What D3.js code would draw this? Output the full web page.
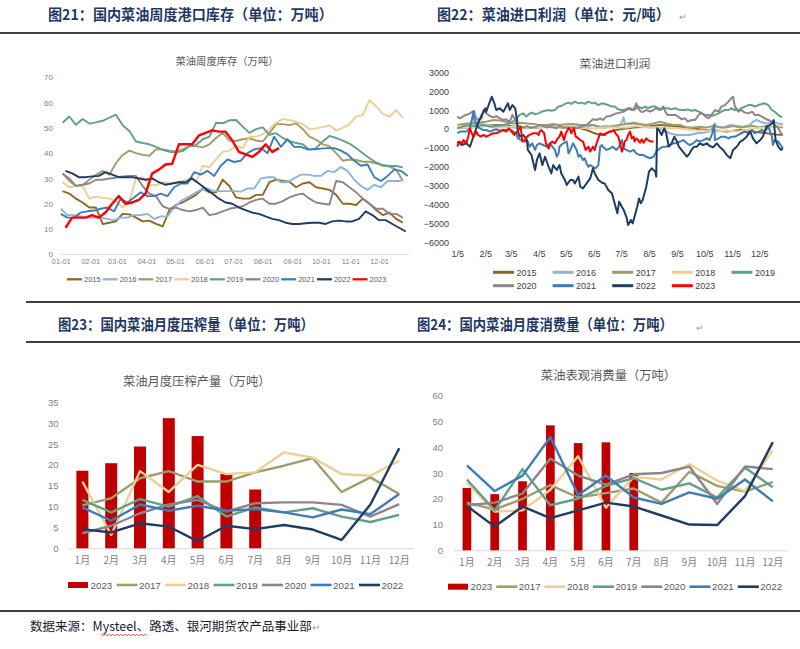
<!DOCTYPE html>
<html lang="zh">
<head>
<meta charset="UTF-8">
<title>菜油库存、利润、压榨与消费</title>
<script src="https://d3js.org/d3.v7.min.js"></script>
<style>
  body { margin: 0; background: #fff; }
  svg { display: block; }
</style>
</head>
<body>
<div id="chart"></div>
<script>
// ---------- data ----------
const years = ["2015", "2016", "2017", "2018", "2019", "2020", "2021", "2022", "2023"];
const yearColors = {
  "2015": "#8c6a23", "2016": "#8fb4da", "2017": "#9d9e6c", "2018": "#ebcf96",
  "2019": "#62a08a", "2020": "#8f8489", "2021": "#3e7cb8", "2022": "#1f3d63", "2023": "#ff0000"
};

// 图21 weekly port stock (万吨): first week date + weekly values
const stockStart = { "2015": "01-03", "2016": "01-01", "2017": "01-03", "2018": "01-03", "2019": "01-03",
                     "2020": "01-03", "2021": "01-01", "2022": "01-06", "2023": "01-06" };
const stock2015 = [25,24,22,20.5,18.5,18.5,12,12.5,13,16,15.8,14.5,13,13.3,12,11,17.5,19.5,20.5,22,23.5,26,24.5,24.5,29.5,27,22.5,22,22,23.5,23.5,28.5,29.5,29,28.7,26.5,28,28.5,26.5,26,25.5,23.5,20,20,19.5,22,20,17.5,15.5,16.5,14,12.5];
const stock2016 = [18,15.5,15.5,15,14.5,14.5,14.5,14,13.5,14.5,14.5,15.5,15.5,16,14,15,15,18.5,21,22.5,24,25.5,26,25,25,25,25,24.8,26,26,30,30.5,30.5,28.5,28.5,30,31.5,31.5,31,31,33,32.5,34.5,33,29.5,27,25.5,27.5,26.5,29,29,29];
const stock2017 = [32,29,27,27.4,29.5,31.4,33,31.5,36,39.3,41,40,39.3,39,41.5,41.5,41,40.7,41.5,42.8,42.8,42.3,43.5,46,48,45,44.8,45.5,45.9,45,44.6,47.9,51.5,51.5,51.1,51.8,49.5,46.5,45.3,43.5,42.8,40,37,37.5,37.3,36.6,36.6,36,35,34.7,33.5,29];
const stock2018 = [28.5,26.5,27,27,22,22.8,22.3,22,21,18.5,21,30,30.5,27.5,27.3,28.5,28,28.5,29,30,28.5,35,34.5,37.5,40.5,41,43,42,46.5,46.5,47.5,49.5,52,53.5,53,52.5,51.5,49.5,49.8,50.3,51,49,50,51.5,54.5,55,61,58.5,55.5,54.5,57,54];
const stock2019 = [52,54.5,51.2,53.5,51.7,52.2,52.8,54,55.2,51,48.8,44.6,44,43.5,42.5,41.3,40.5,40.3,40.8,42.8,43.2,45.5,46.5,52,51.8,53,53.1,50.5,48,49.5,50.2,47.3,47.9,46,44.8,44,43.5,41.3,42,44.6,46.8,46,45,43.8,42,40,38,36.3,35.3,34.9,34.9,34.4];
const stock2020 = [32,30,27,27.5,28,29.5,29.5,30,30.3,30.8,31,31,27,24,23,19,18,18.5,17.5,17,17.5,18.5,15.5,16,17,18,18.5,19,20.5,21.5,22,20,20,21,22.5,23.5,24,22,20.5,20,19.7,29,28.5,26.5,24.5,22,20,18,18,16,16,14.5];
const stock2021 = [16,14.5,14.5,16.5,17,17.3,18,18.5,17,22,20.5,22.5,24.5,23,23,24,23,26.5,28,28,32.5,31.5,33,31,35,37.5,36.5,37,40,41.5,42,40,46.5,42.5,45.5,42.5,42.5,41.5,41.5,41.8,42,42,41,39.5,37,35,35.5,30.5,29,31,33.5,33,31];
const stock2022 = [33,32,30.5,30.5,30.8,31,32.5,31.5,30.5,30.5,30.5,30,29.5,30,28.5,27.5,28,28.5,28.5,30,28,26,24,22,20.5,20,18.5,17.5,16.5,16,15,14,13.5,12.5,12,12,12.3,12.5,12.5,12,13,13.3,13,13,14,17,15.5,13.5,13.5,12,10.5,9];
const stock2023 = [10.5,14.5,14.5,14.5,15.5,14.5,16.5,20,23,20,20.5,21.5,24,32,33.5,35.5,35.8,43.5,43.5,43.5,47,48,49,48.5,48.5,45,40.5,39.5,38.5,40.5,43.5,40.5,42];
const stockSeries = { "2015": stock2015, "2016": stock2016, "2017": stock2017, "2018": stock2018, "2019": stock2019,
                      "2020": stock2020, "2021": stock2021, "2022": stock2022, "2023": stock2023 };

// 图22 import profit (元/吨): [day of year (0 = Jan 1), value]
const profit2015 = [[4,90],[18,90],[33,160],[47,220],[62,160],[77,90],[92,90],[106,160],[121,90],[136,90],[147,-50],[154,-190],[162,-310],[169,-220],[176,-80],[184,-10],[199,90],[213,130],[228,220],[243,160],[258,90],[272,-10],[287,-80],[302,-130],[317,-50],[331,-130],[346,-220],[357,-280],[364,-310]];
const profit2016 = [[4,40],[11,130],[18,220],[22,660],[23,920],[25,570],[29,300],[36,220],[44,160],[51,90],[58,160],[66,90],[73,40],[81,40],[88,90],[95,90],[103,130],[110,160],[117,90],[125,90],[132,130],[140,160],[147,90],[154,220],[162,130],[169,160],[176,90],[184,220],[186,390],[188,620],[189,300],[195,270],[202,300],[210,220],[217,90],[224,90],[232,-50],[239,-220],[247,-310],[254,-310],[261,-310],[269,-220],[276,-190],[283,-130],[287,130],[289,300],[291,130],[298,90],[306,220],[313,160],[320,130],[328,220],[331,390],[335,480],[339,390],[346,300],[353,390],[359,300],[364,270]];
const profit2017 = [[4,220],[14,300],[25,340],[36,390],[44,480],[51,450],[58,390],[66,300],[73,340],[81,300],[88,270],[95,220],[103,220],[110,270],[117,220],[125,250],[132,270],[140,220],[147,220],[154,220],[162,90],[169,90],[176,160],[184,220],[191,270],[199,340],[206,270],[213,220],[221,300],[228,390],[235,300],[243,220],[250,220],[258,90],[265,90],[272,130],[280,90],[287,160],[294,90],[302,90],[309,160],[317,90],[324,130],[331,160],[339,90],[346,160],[353,130],[364,90]];
const profit2018 = [[4,160],[14,90],[25,90],[36,160],[47,90],[58,90],[70,160],[81,90],[92,130],[103,90],[114,90],[125,160],[136,90],[147,40],[158,40],[169,90],[180,90],[191,90],[202,160],[213,90],[224,90],[235,40],[247,40],[258,-10],[269,-80],[280,-80],[291,-130],[302,-80],[313,-130],[324,-50],[335,40],[346,90],[357,160],[364,160]];
const profit2019 = [[4,40],[11,160],[18,220],[25,160],[33,220],[40,130],[47,160],[55,220],[62,300],[68,480],[73,750],[77,830],[80,660],[82,750],[86,870],[90,800],[94,830],[97,920],[101,970],[105,1010],[108,970],[112,1010],[116,1190],[119,1220],[123,1330],[127,1400],[130,1330],[134,1450],[138,1360],[141,1400],[145,1330],[149,1450],[153,1360],[156,1400],[160,1270],[164,1360],[167,1330],[171,1270],[175,1190],[178,1190],[182,1040],[186,1010],[189,1010],[193,1100],[197,1010],[200,1040],[204,1190],[208,1100],[212,1190],[215,1100],[219,1190],[223,1190],[226,1100],[230,1040],[234,1100],[237,1100],[241,1040],[245,1100],[248,1040],[252,1010],[256,1010],[259,1040],[263,970],[267,1010],[271,920],[274,830],[278,750],[282,750],[285,690],[289,750],[293,830],[296,920],[300,1010],[304,1010],[307,1100],[311,1010],[315,1010],[318,1100],[322,1190],[326,1270],[330,1270],[333,1190],[337,1270],[341,1330],[344,1360],[348,1270],[352,1010],[355,920],[359,750],[363,620]];
const profit2020 = [[4,660],[7,570],[11,690],[14,750],[18,830],[22,960],[23,660],[27,480],[31,570],[33,1010],[36,830],[40,690],[44,620],[47,690],[51,570],[55,480],[58,520],[62,390],[65,750],[68,480],[70,220],[73,130],[77,90],[81,160],[84,90],[88,90],[92,130],[95,220],[99,160],[103,90],[106,130],[110,90],[114,40],[117,160],[121,90],[125,90],[129,90],[132,90],[136,40],[140,90],[143,160],[147,220],[151,390],[154,520],[158,480],[162,570],[165,480],[169,660],[173,690],[176,750],[180,830],[184,870],[188,920],[191,1010],[195,1100],[199,1010],[202,1360],[204,1100],[207,920],[210,920],[213,1010],[217,920],[221,1010],[224,1100],[228,1010],[232,1190],[235,830],[237,750],[241,750],[245,750],[248,660],[252,520],[256,570],[259,390],[263,480],[267,480],[271,750],[274,870],[278,690],[282,570],[285,750],[289,1010],[293,920],[296,1190],[300,1270],[304,1450],[307,1630],[309,1710],[311,1190],[315,920],[318,1010],[322,870],[326,830],[330,920],[333,750],[337,750],[341,660],[344,570],[348,480],[352,390],[355,220],[359,40],[362,-220],[364,-310]];
const profit2021 = [[4,-220],[7,-130],[11,-130],[14,-130],[18,40],[20,480],[22,920],[23,480],[26,130],[29,40],[33,-50],[36,-50],[40,-130],[44,-50],[47,-10],[51,-80],[55,-50],[58,-50],[62,-10],[66,-130],[69,-220],[71,-490],[75,-580],[79,-660],[82,-660],[84,-930],[87,-750],[90,-1100],[92,-840],[95,-750],[99,-840],[103,-930],[106,-750],[109,-930],[112,-1100],[114,-1460],[116,-1280],[117,-930],[121,-750],[125,-660],[127,-1280],[129,-1100],[132,-750],[136,-1100],[138,-1460],[140,-1370],[143,-1630],[145,-1540],[147,-1810],[149,-1990],[151,-1900],[154,-1990],[157,-2070],[160,-1900],[162,-930],[164,-840],[165,-930],[169,-1100],[173,-1020],[176,-930],[180,-1100],[183,-930],[186,-580],[188,-1020],[191,-1100],[195,-1190],[199,-1100],[202,-1280],[206,-1370],[210,-1370],[213,-1460],[217,-1540],[221,-1460],[224,-1190],[228,-1020],[232,-930],[235,-930],[239,-840],[243,-750],[247,-750],[250,-660],[254,-580],[258,-750],[261,-840],[265,-750],[269,-580],[272,-660],[276,-580],[280,-490],[283,-580],[286,-220],[288,220],[289,-580],[293,-490],[296,-400],[300,-400],[304,-490],[307,-400],[311,-400],[315,-310],[318,-220],[322,-130],[326,-220],[330,-50],[333,-220],[337,-130],[341,-50],[344,-130],[348,130],[352,-400],[353,-840],[355,-580],[359,-660],[363,-930],[364,-1020]];
const profit2022 = [[4,-660],[9,-840],[14,-750],[18,-930],[23,-220],[27,310],[31,750],[35,1100],[36,920],[40,1450],[42,1710],[45,1360],[47,1010],[51,1100],[55,920],[58,1190],[60,1360],[62,1010],[65,1270],[68,1100],[70,480],[71,-130],[73,-400],[77,-310],[81,-580],[82,-1100],[86,-1370],[90,-2160],[92,-1630],[95,-1280],[98,-1900],[101,-1460],[105,-1990],[108,-2340],[110,-1900],[114,-2160],[117,-1900],[119,-2340],[123,-2690],[125,-2950],[129,-2690],[132,-2690],[134,-2870],[138,-2510],[140,-3040],[143,-3130],[147,-2870],[151,-2600],[153,-2250],[154,-2070],[156,-2340],[160,-2690],[164,-2830],[167,-2870],[171,-3220],[175,-3390],[178,-3920],[181,-4450],[183,-3830],[186,-4100],[188,-4270],[191,-4630],[193,-5070],[196,-4800],[198,-4980],[200,-4630],[203,-4100],[205,-3660],[207,-3920],[209,-3750],[212,-3220],[213,-3040],[216,-2250],[219,-2070],[221,-2160],[223,-2250],[224,-2510],[225,40],[227,-50],[230,-310],[233,40],[235,-220],[238,-930],[241,-750],[244,-400],[247,-660],[249,-930],[252,-1100],[255,-1280],[258,-1460],[261,-1280],[263,-1100],[266,-930],[269,-930],[272,-750],[276,-840],[280,-750],[283,-890],[287,-960],[291,-750],[294,-930],[298,-1100],[302,-1370],[306,-1540],[309,-1100],[313,-930],[317,-660],[320,-580],[324,-400],[328,-130],[331,-490],[335,-750],[339,-580],[342,-400],[346,130],[350,220],[352,310],[354,480],[356,-580],[359,-930],[362,-1100],[364,-1020]];
const profit2023 = [[4,-930],[6,-660],[9,-750],[11,-580],[14,-750],[16,-400],[18,40],[20,-220],[22,-400],[25,-130],[27,-310],[30,-400],[33,-310],[36,-400],[40,-310],[44,-220],[47,-220],[51,-130],[55,-50],[58,-130],[61,40],[64,-130],[67,-310],[70,-130],[73,40],[74,130],[76,-660],[79,-580],[81,-400],[84,-310],[88,-220],[92,-220],[94,-310],[95,-130],[97,-50],[100,-220],[102,-750],[105,-1020],[107,-750],[109,-660],[112,-750],[115,-490],[117,-400],[119,-130],[122,-580],[124,-220],[127,40],[129,-50],[130,-220],[133,40],[135,-400],[138,-490],[140,-580],[143,-660],[146,-1100],[149,-930],[151,-1190],[154,-930],[156,-1100],[158,-750],[160,-490],[162,-220],[165,-310],[167,-310],[169,-220],[172,-130],[175,-130],[177,-50],[179,-220],[182,-400],[184,-750],[186,-1190],[188,-930],[189,-660],[191,-580],[193,-310],[195,-130],[197,-490],[199,-400],[200,-660],[202,-490],[204,-580],[206,-720],[208,-540],[210,-720],[213,-490],[215,-580],[218,-660],[221,-660]];
const profitSeries = { "2015": profit2015, "2016": profit2016, "2017": profit2017, "2018": profit2018, "2019": profit2019,
                       "2020": profit2020, "2021": profit2021, "2022": profit2022, "2023": profit2023 };

// 图23 / 图24 monthly (万吨)
const months = ["1月","2月","3月","4月","5月","6月","7月","8月","9月","10月","11月","12月"];
const lineYears = ["2017", "2018", "2019", "2020", "2021", "2022"];
const crush2023 = [18.6, 20.4, 24.4, 31.2, 26.9, 17.8, 14.1];
const crush2017 = [10.3, 12, 16.8, 18.5, 16, 16, 18.2, 19.8, 21.6, 13.5, 17, 13];
const crush2018 = [16, 3.2, 18.5, 13.5, 20, 17.8, 18.2, 23, 21.7, 17.8, 17.4, 21];
const crush2019 = [11.6, 8.6, 11.8, 10, 12.5, 7.6, 9.8, 8.6, 9.6, 7.6, 6.3, 8];
const crush2020 = [3.6, 5.4, 8.4, 10.5, 11.6, 8.8, 10.8, 11, 11, 10.4, 7.6, 10.6];
const crush2021 = [9.8, 6.6, 10.5, 9, 10.2, 9, 9.4, 8.6, 7.4, 9.3, 8.2, 13];
const crush2022 = [4.6, 3.8, 6, 5.2, 1.7, 5.4, 4.6, 5.6, 4.5, 2, 10.5, 24];
const crushLines = { "2017": crush2017, "2018": crush2018, "2019": crush2019, "2020": crush2020, "2021": crush2021, "2022": crush2022 };

const consume2023 = [24.2, 21.8, 26.8, 48.5, 41.6, 41.9, 30];
const consume2017 = [18.5, 15.8, 20, 25.3, 20.5, 22.2, 24, 18.5, 30.5, 25, 22.8, 26.5];
const consume2018 = [26.2, 15, 15.5, 23.5, 36.5, 16.5, 28.5, 27.5, 33.5, 27, 23, 38.8];
const consume2019 = [27.5, 15.5, 31.5, 17.5, 20, 25, 28, 23.5, 26, 20.5, 32, 24.5];
const consume2020 = [17.5, 18.5, 22, 35.5, 29, 25.5, 29.5, 30, 32.5, 18, 32.5, 31.5];
const consume2021 = [33, 23, 29, 44, 21.5, 29, 20.5, 18, 22.5, 20, 27.5, 19];
const consume2022 = [17.2, 9.2, 17, 12.5, 15.5, 18.5, 17, 13.5, 10, 9.8, 21, 42];
const consumeLines = { "2017": consume2017, "2018": consume2018, "2019": consume2019, "2020": consume2020, "2021": consume2021, "2022": consume2022 };

// ---------- page ----------
const cjk = '"Noto Sans CJK SC", "Noto Sans", sans-serif';
const num = '"Liberation Sans Narrow", "Liberation Sans", Arial, sans-serif';
const navy = "#1f3864";

const svg = d3.select("#chart").append("svg")
  .attr("width", 800).attr("height", 649)
  .style("font-family", cjk);

// headings and rules (squeezed horizontally like the report's condensed font)
function heading(x, y, str, size, sx) {
  svg.append("text").attr("transform", `translate(${x},${y}) scale(${sx},1)`)
    .attr("font-size", size).attr("font-weight", "bold").attr("fill", navy)
    .text(str);
}
heading(48, 19.5, "图21：国内菜油周度港口库存（单位：万吨）", 14.5, 0.975);
heading(437, 19.5, "图22：菜油进口利润（单位：元/吨）", 14.5, 0.97);
heading(58, 330, "图23：国内菜油月度压榨量（单位：万吨）", 15, 0.89);
heading(417, 330, "图24：国内菜油月度消费量（单位：万吨）", 15, 0.89);
[[679, 20], [696, 331]].forEach(p => {
  svg.append("text").attr("x", p[0]).attr("y", p[1]).attr("font-size", 9).attr("fill", "#9a9a9a").text("↵");
});

[[0, 800, 33], [26, 800, 302], [26, 800, 342], [0, 800, 611]].forEach(r => {
  svg.append("line").attr("x1", r[0]).attr("x2", r[1]).attr("y1", r[2]).attr("y2", r[2])
    .attr("stroke", "#000").attr("stroke-width", 1.3);
});

const source = svg.append("text").attr("x", 30).attr("y", 631)
  .attr("font-size", 12.5).attr("fill", "#1a1a2e");
source.append("tspan").text("数据来源：Mysteel、路透、银河期货农产品事业部");
source.append("tspan").attr("font-size", 10).attr("fill", "#9a9a9a").text("↵");
// spell-check squiggle under "Mysteel"
const squiggle = d3.range(0, 24).map(i => [101 + i * 2, 634.5 + (i % 2 ? 1.2 : -0.2)]);
svg.append("path").attr("d", d3.line()(squiggle)).attr("fill", "none").attr("stroke", "#e03030").attr("stroke-width", 0.8);

// ---------- 图21 ----------
(function () {
  const g = svg.append("g");
  const day0 = new Date(2019, 0, 1);
  const x = d3.scaleTime().domain([day0, new Date(2019, 11, 31)]).range([60.7, 407.6]);
  const y = d3.scaleLinear().domain([0, 70]).range([254.3, 77.3]);

  g.append("text").attr("x", 227).attr("y", 64.5).attr("text-anchor", "middle")
    .attr("font-size", 10.3).attr("fill", "#595959").text("菜油周度库存（万吨）");

  const yAxis = g.append("g").attr("transform", "translate(53,0)")
    .call(d3.axisLeft(y).tickValues(d3.range(0, 71, 10)).tickSize(0).tickPadding(0));
  yAxis.select(".domain").remove();
  yAxis.selectAll("text").attr("font-family", num).attr("font-size", 8).attr("fill", "#7f7f7f");

  const xAxis = g.append("g").attr("transform", "translate(0,254.3)")
    .call(d3.axisBottom(x).ticks(d3.timeMonth.every(1)).tickFormat(d3.timeFormat("%m-%d")).tickSize(0).tickPadding(4.5));
  xAxis.select(".domain").attr("stroke", "#d9d9d9").attr("d", "M60.7,0H409");
  xAxis.selectAll("text").attr("font-family", num).attr("font-size", 7.3).attr("fill", "#7f7f7f");

  const line = d3.line().x(d => x(d[0])).y(d => y(d[1]));
  years.forEach(yr => {
    const start = d3.timeParse("%Y-%m-%d")("2019-" + stockStart[yr]);
    const pts = stockSeries[yr].map((v, i) => [d3.timeDay.offset(start, 7 * i), v]);
    g.append("path").attr("d", line(pts)).attr("fill", "none")
      .attr("stroke", yearColors[yr]).attr("stroke-width", yr === "2023" ? 2.4 : 1.9)
      .attr("stroke-linejoin", "round");
  });

  years.forEach((yr, i) => {
    const x0 = 67 + i * 35.7;
    g.append("line").attr("x1", x0).attr("x2", x0 + 15).attr("y1", 279.3).attr("y2", 279.3)
      .attr("stroke", yearColors[yr]).attr("stroke-width", 2.3);
    g.append("text").attr("x", x0 + 17).attr("y", 282).attr("font-family", num)
      .attr("font-size", 7.5).attr("fill", "#595959").text(yr);
  });
})();

// ---------- 图22 ----------
(function () {
  const g = svg.append("g");
  const day0 = new Date(2019, 0, 1);
  const x = d3.scaleTime().domain([day0, new Date(2019, 11, 31)]).range([453.7, 782.8]);
  const y = d3.scaleLinear().domain([-6000, 3000]).range([242.7, 72.3]);

  g.append("text").attr("x", 615).attr("y", 67.5).attr("text-anchor", "middle")
    .attr("font-size", 11.8).attr("fill", "#595959").text("菜油进口利润");

  const yAxis = g.append("g").attr("transform", "translate(449,0)")
    .call(d3.axisLeft(y).tickValues(d3.range(-6000, 3001, 1000)).tickFormat(d3.format("d")).tickSize(0).tickPadding(0));
  yAxis.select(".domain").remove();
  yAxis.selectAll("text").attr("font-family", num).attr("font-size", 9).attr("fill", "#404040");

  const fifths = d3.timeMonth.range(day0, new Date(2020, 0, 1)).map(d => d3.timeDay.offset(d, 4));
  const xAxis = g.append("g").attr("transform", "translate(0,251)")
    .call(d3.axisBottom(x).tickValues(fifths).tickFormat(d3.timeFormat("%-m/%-d")).tickSize(0).tickPadding(0));
  xAxis.select(".domain").remove();
  xAxis.selectAll("text").attr("font-family", num).attr("font-size", 9).attr("fill", "#404040");

  const line = d3.line().x(d => x(d3.timeDay.offset(day0, d[0]))).y(d => y(d[1]));
  years.forEach(yr => {
    g.append("path").attr("d", line(profitSeries[yr])).attr("fill", "none")
      .attr("stroke", yearColors[yr]).attr("stroke-width", 2)
      .attr("stroke-linejoin", "round");
  });

  years.forEach((yr, i) => {
    const col = i % 5, row = Math.floor(i / 5);
    const x0 = 493 + col * 59.6, ly = 272.3 + row * 13.4;
    g.append("line").attr("x1", x0).attr("x2", x0 + 21).attr("y1", ly).attr("y2", ly)
      .attr("stroke", yearColors[yr]).attr("stroke-width", 3);
    g.append("text").attr("x", x0 + 23.5).attr("y", ly + 3.3).attr("font-family", num)
      .attr("font-size", 9).attr("fill", "#404040").text(yr);
  });
})();

// ---------- 图23 / 图24 ----------
function monthly(opts) {
  const g = svg.append("g");
  const x = d3.scaleBand().domain(months).range(opts.xRange);
  const y = d3.scaleLinear().domain([0, opts.max]).range(opts.yRange);

  g.append("text").attr("x", opts.titleX).attr("y", opts.titleY).attr("text-anchor", "middle")
    .attr("font-size", 12.3).attr("fill", "#595959").text(opts.title);

  const yAxis = g.append("g").attr("transform", `translate(${opts.yLabelX},0)`)
    .call(d3.axisLeft(y).tickValues(d3.range(0, opts.max + 1, opts.step)).tickSize(0).tickPadding(0));
  yAxis.select(".domain").remove();
  yAxis.selectAll("text").attr("font-family", num).attr("font-size", 9.5).attr("fill", "#7f7f7f");

  const xAxis = g.append("g").attr("transform", `translate(0,${opts.yRange[0]})`)
    .call(d3.axisBottom(x).tickSize(0).tickPadding(9));
  xAxis.select(".domain").attr("stroke", "#d9d9d9");
  xAxis.selectAll("text").attr("font-family", cjk).attr("font-size", 10).attr("fill", "#7f7f7f");

  g.selectAll("rect.bar").data(opts.bars).join("rect").attr("class", "bar")
    .attr("x", (d, i) => x(months[i]) + x.bandwidth() / 2 - opts.barW / 2)
    .attr("width", opts.barW)
    .attr("y", d => y(d)).attr("height", d => y(0) - y(d))
    .attr("fill", "#c00000");

  const line = d3.line().x((d, i) => x(months[i]) + x.bandwidth() / 2).y(d => y(d));
  lineYears.forEach(yr => {
    g.append("path").attr("d", line(opts.lines[yr])).attr("fill", "none")
      .attr("stroke", yearColors[yr]).attr("stroke-width", 2.4).attr("stroke-linejoin", "round");
  });

  ["2023"].concat(lineYears).forEach((yr, i) => {
    const x0 = opts.legendX + i * opts.legendStep, ly = opts.legendY;
    if (yr === "2023") {
      g.append("rect").attr("x", x0).attr("y", ly - 3).attr("width", 20).attr("height", 6).attr("fill", "#c00000");
    } else {
      g.append("line").attr("x1", x0).attr("x2", x0 + 21).attr("y1", ly).attr("y2", ly)
        .attr("stroke", yearColors[yr]).attr("stroke-width", 2.6);
    }
    g.append("text").attr("x", x0 + 22.5).attr("y", ly + 3.6).attr("font-family", num)
      .attr("font-size", 9.8).attr("fill", "#595959").text(yr);
  });
}

monthly({
  title: "菜油月度压榨产量（万吨）", titleX: 196.7, titleY: 385.5,
  xRange: [68, 413.6], yRange: [548.3, 402.3], max: 35, step: 5, yLabelX: 58.5,
  bars: crush2023, barW: 12, lines: crushLines,
  legendX: 68, legendStep: 48.5, legendY: 585
});
monthly({
  title: "菜油表观消费量（万吨）", titleX: 608.5, titleY: 379.5,
  xRange: [453, 786.7], yRange: [550.3, 395.7], max: 60, step: 10, yLabelX: 443,
  bars: consume2023, barW: 8.7, lines: consumeLines,
  legendX: 448, legendStep: 48.3, legendY: 586.7
});
</script>
</body>
</html>
